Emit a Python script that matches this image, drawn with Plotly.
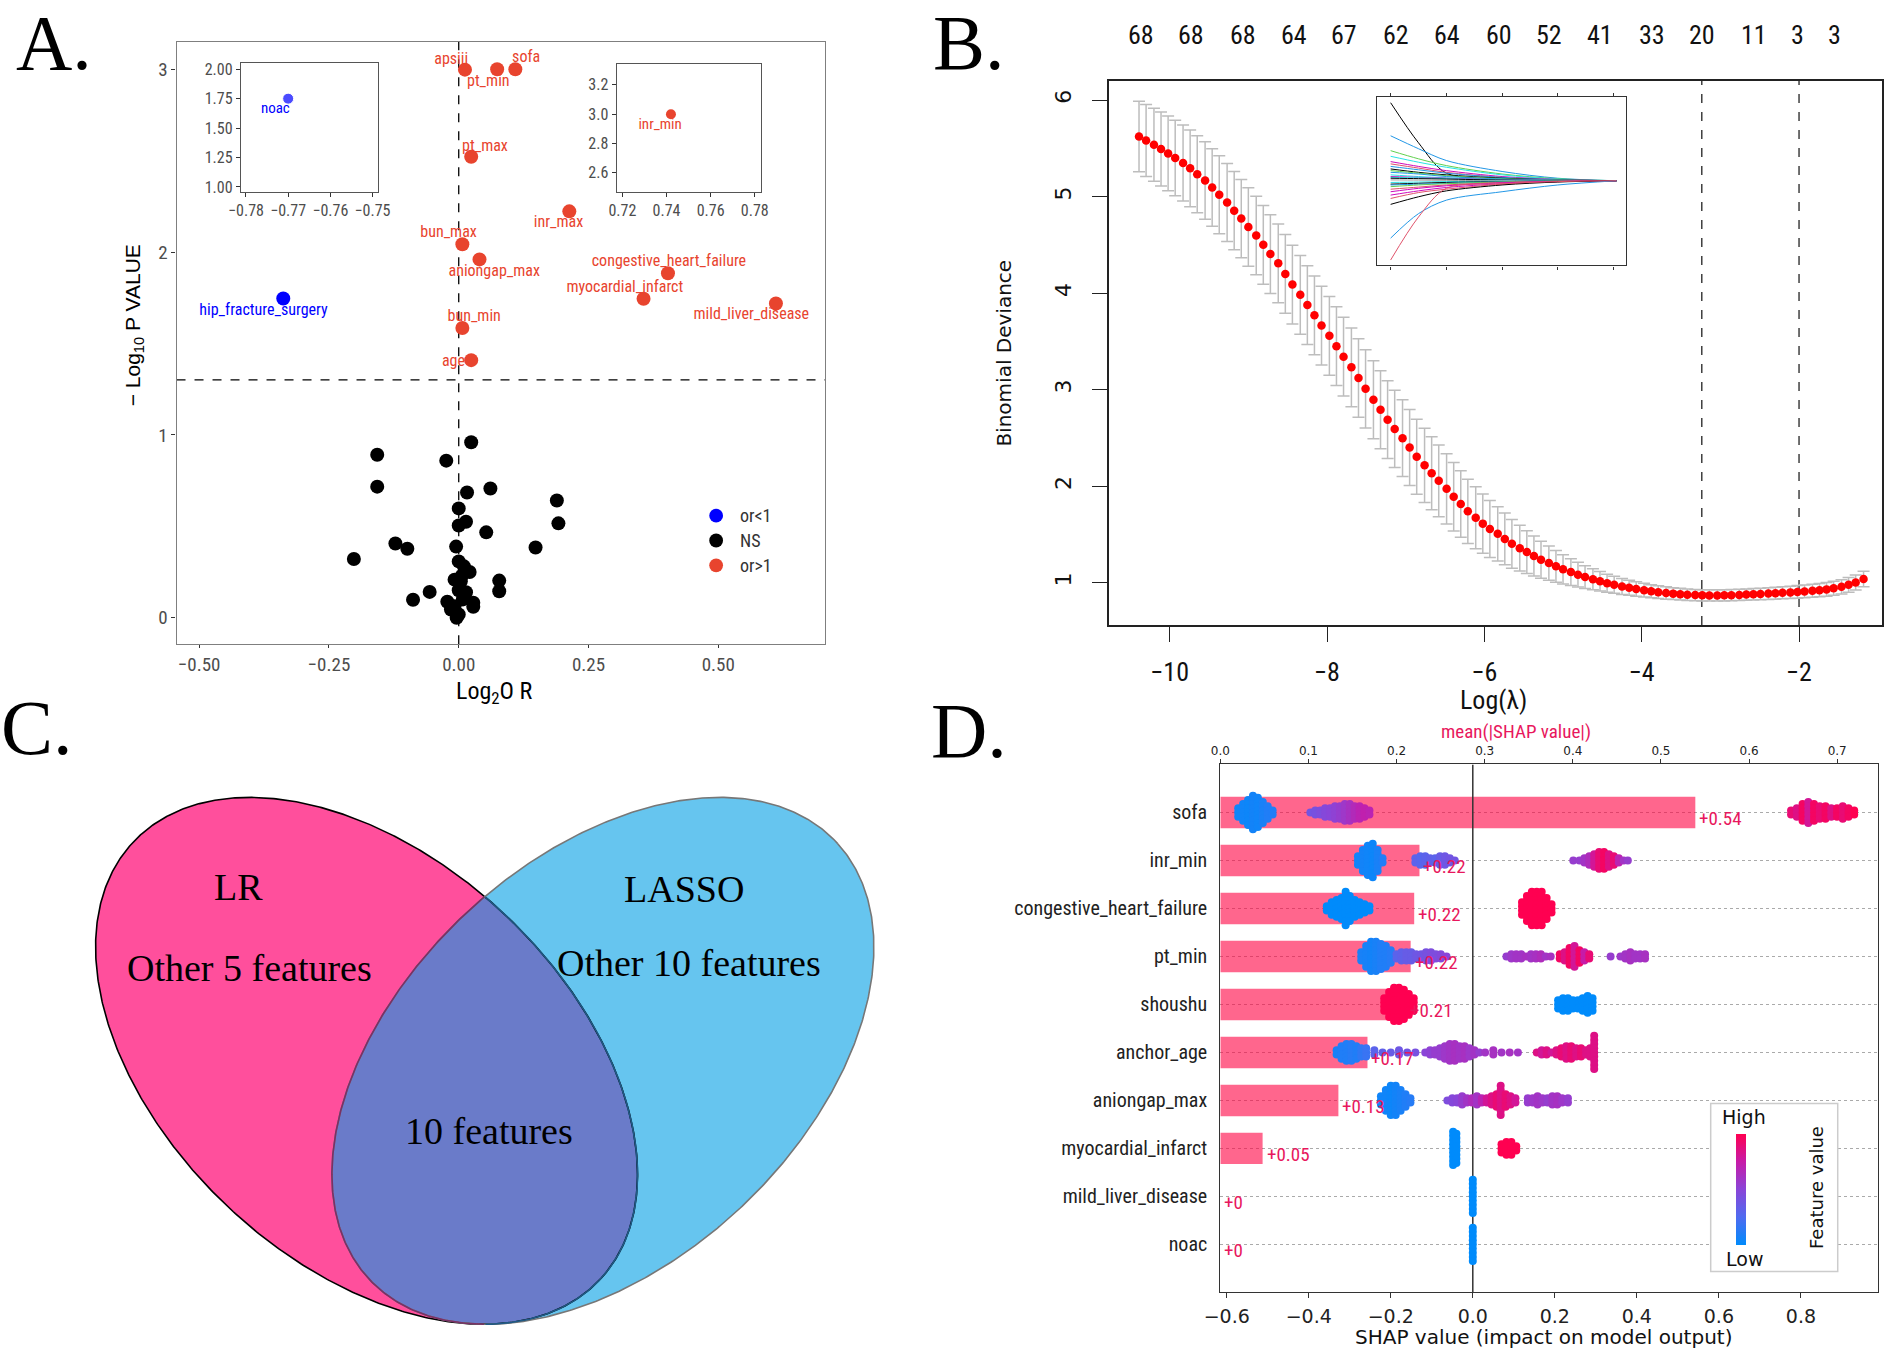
import numpy as np
import plotly.graph_objects as go

W, H = 1896, 1356

# ---------------- A. volcano: log2 OR vs -log10 p ----------------
sig_names = ["apsiii", "pt_min", "sofa", "pt_max", "inr_max", "bun_max",
             "aniongap_max", "congestive_heart_failure", "myocardial_infarct",
             "mild_liver_disease", "bun_min", "age", "hip_fracture_surgery"]
sig_log2or = [0.012, 0.074, 0.109, 0.024, 0.213, 0.007, 0.040, 0.403, 0.356,
              0.611, 0.007, 0.024, -0.338]
sig_nlogp = [2.998, 3.0, 3.0, 2.522, 2.223, 2.043, 1.960, 1.884, 1.745,
             1.719, 1.585, 1.409, 1.746]
sig_group = ["or>1"] * 12 + ["or<1"]

ns_log2or = [0.024, -0.157, -0.024, -0.157, 0.016, 0.061, 0.189, 0.0, 0.014,
             0.0, 0.192, 0.053, -0.122, -0.099, -0.005, 0.148, -0.202, 0.0,
             0.010, 0.021, -0.008, 0.004, 0.078, 0.078, -0.056, 0.0, 0.014,
             -0.088, -0.022, 0.028, 0.028, -0.015, 0.0, -0.004, -0.008, 0.008,
             0.006]
ns_nlogp = [0.960, 0.891, 0.859, 0.717, 0.685, 0.707, 0.641, 0.598, 0.525,
            0.504, 0.516, 0.467, 0.406, 0.377, 0.389, 0.384, 0.321, 0.308,
            0.281, 0.250, 0.208, 0.199, 0.203, 0.145, 0.141, 0.150, 0.139,
            0.098, 0.087, 0.082, 0.060, 0.045, 0.018, 0.0, 0.063, 0.100,
            0.230]
p_cut = 1.301  # -log10(0.05)

zoom_left_log2or = [-0.770, -0.7515]
zoom_left_nlogp = [1.75, 0.907]
zoom_left_label = "noac"
zoom_right_log2or = [0.742]
zoom_right_nlogp = [3.0]
zoom_right_label = "inr_min"

legend_labels = ["or<1", "NS", "or>1"]

# ---------------- B. LASSO cross-validation ----------------
log_lambda = [-10.39, -10.30, -10.20, -10.11, -10.02, -9.93, -9.83, -9.74, -9.65, -9.55,
              -9.46, -9.37, -9.27, -9.18, -9.09, -9.00, -8.90, -8.81, -8.72, -8.62,
              -8.53, -8.44, -8.34, -8.25, -8.16, -8.07, -7.97, -7.88, -7.79, -7.69,
              -7.60, -7.51, -7.41, -7.32, -7.23, -7.14, -7.04, -6.95, -6.86, -6.76,
              -6.67, -6.58, -6.48, -6.39, -6.30, -6.21, -6.11, -6.02, -5.93, -5.83,
              -5.74, -5.65, -5.55, -5.46, -5.37, -5.28, -5.18, -5.09, -5.00, -4.90,
              -4.81, -4.72, -4.62, -4.53, -4.44, -4.35, -4.25, -4.16, -4.07, -3.97,
              -3.88, -3.79, -3.69, -3.60, -3.51, -3.42, -3.32, -3.23, -3.14, -3.04,
              -2.95, -2.86, -2.76, -2.67, -2.58, -2.49, -2.39, -2.30, -2.21, -2.11,
              -2.02, -1.93, -1.83, -1.74, -1.65, -1.56, -1.46, -1.37, -1.28, -1.18]
deviance = [5.623, 5.582, 5.537, 5.493, 5.448, 5.400, 5.349, 5.294, 5.232, 5.167,
            5.095, 5.020, 4.941, 4.855, 4.773, 4.687, 4.598, 4.502, 4.406, 4.310,
            4.200, 4.090, 3.984, 3.878, 3.771, 3.665, 3.559, 3.452, 3.343, 3.233,
            3.123, 3.010, 2.897, 2.794, 2.691, 2.595, 2.499, 2.403, 2.307, 2.218,
            2.136, 2.057, 1.974, 1.892, 1.817, 1.741, 1.676, 1.614, 1.559, 1.508,
            1.456, 1.405, 1.360, 1.319, 1.278, 1.240, 1.205, 1.172, 1.141, 1.112,
            1.085, 1.060, 1.037, 1.016, 0.997, 0.980, 0.964, 0.950, 0.937, 0.925,
            0.914, 0.904, 0.896, 0.889, 0.883, 0.878, 0.874, 0.871, 0.870, 0.870,
            0.871, 0.873, 0.876, 0.879, 0.882, 0.886, 0.890, 0.894, 0.898, 0.902,
            0.907, 0.912, 0.918, 0.925, 0.933, 0.945, 0.960, 0.980, 1.005, 1.040]
dev_se = [0.365, 0.372, 0.378, 0.383, 0.387, 0.391, 0.394, 0.397, 0.399, 0.401,
          0.402, 0.403, 0.404, 0.405, 0.406, 0.407, 0.407, 0.408, 0.408, 0.408,
          0.408, 0.408, 0.408, 0.408, 0.408, 0.408, 0.408, 0.408, 0.408, 0.408,
          0.407, 0.406, 0.405, 0.404, 0.402, 0.400, 0.397, 0.393, 0.389, 0.384,
          0.378, 0.371, 0.363, 0.354, 0.344, 0.333, 0.321, 0.308, 0.295, 0.281,
          0.267, 0.252, 0.237, 0.222, 0.207, 0.192, 0.178, 0.164, 0.151, 0.139,
          0.128, 0.118, 0.109, 0.101, 0.094, 0.088, 0.083, 0.078, 0.074, 0.071,
          0.068, 0.066, 0.064, 0.062, 0.061, 0.060, 0.059, 0.058, 0.058, 0.058,
          0.058, 0.058, 0.059, 0.059, 0.060, 0.060, 0.061, 0.062, 0.063, 0.064,
          0.065, 0.066, 0.067, 0.068, 0.070, 0.072, 0.074, 0.076, 0.078, 0.080]
lambda_min = -3.236
lambda_1se = -2.0
nzero_labels = ["68", "68", "68", "64", "67", "62", "64", "60", "52", "41",
                "33", "20", "11", "3", "3"]
nzero_pos = [-10.37, -9.73, -9.07, -8.42, -7.78, -7.12, -6.48, -5.82, -5.18,
             -4.53, -3.87, -3.23, -2.57, -2.02, -1.55]

# coefficient paths in the small inset
path_x = [0, 0.5, 1, 2, 3, 4.05]
path_vals = [
    [0.925, 0.45, 0.09, 0.03, 0.01, 0],
    [0.533, 0.38, 0.24, 0.11, 0.03, 0],
    [0.357, 0.26, 0.18, 0.08, 0.024, 0],
    [0.29, 0.22, 0.16, 0.07, 0.02, 0],
    [0.227, 0.17, 0.12, 0.05, 0.015, 0],
    [0.20, 0.15, 0.10, 0.04, 0.012, 0],
    [0.17, 0.13, 0.09, 0.04, 0.012, 0],
    [0.14, 0.10, 0.07, 0.03, 0.01, 0],
    [0.12, 0.09, 0.06, 0.025, 0.008, 0],
    [0.10, 0.08, 0.05, 0.02, 0.006, 0],
    [0.07, 0.05, 0.035, 0.015, 0.005, 0],
    [0.05, 0.04, 0.03, 0.012, 0.004, 0],
    [0.04, 0.035, 0.025, 0.01, 0.003, 0],
    [0.03, 0.025, 0.02, 0.008, 0.003, 0],
    [0.01, 0.008, 0.005, 0.002, 0.001, 0],
    [-0.02, -0.015, -0.01, -0.005, -0.002, 0],
    [-0.04, -0.03, -0.02, -0.01, -0.003, 0],
    [-0.05, -0.04, -0.03, -0.012, -0.004, 0],
    [-0.07, -0.05, -0.035, -0.015, -0.005, 0],
    [-0.10, -0.075, -0.05, -0.02, -0.006, 0],
    [-0.13, -0.09, -0.06, -0.025, -0.008, 0],
    [-0.17, -0.12, -0.08, -0.035, -0.01, 0],
    [-0.21, -0.14, -0.10, -0.04, -0.012, 0],
    [-0.28, -0.19, -0.12, -0.05, -0.015, 0],
    [-0.68, -0.39, -0.23, -0.13, -0.05, 0],
    [-0.94, -0.43, -0.09, -0.035, -0.01, 0],
]

# ---------------- C. Venn ----------------
venn_sets = ["LR", "LASSO"]
venn_only = [5, 10]
venn_both = 10

# ---------------- D. SHAP summary ----------------
features = ["sofa", "inr_min", "congestive_heart_failure", "pt_min", "shoushu",
            "anchor_age", "aniongap_max", "myocardial_infarct",
            "mild_liver_disease", "noac"]
mean_abs_shap = [0.539, 0.226, 0.220, 0.216, 0.211, 0.167, 0.134, 0.048, 0.0, 0.0]
bar_labels = ["+0.54", "+0.22", "+0.22", "+0.22", "+0.21", "+0.17", "+0.13",
              "+0.05", "+0", "+0"]

# (shap value, dots stacked, feature value 0..1)
sw_sofa = [(-0.572, 3, 0.05), (-0.560, 5, 0.05), (-0.548, 7, 0.04), (-0.536, 9, 0.06),
           (-0.524, 8, 0.05), (-0.512, 6, 0.08), (-0.500, 4, 0.1), (-0.488, 2, 0.1),
           (-0.396, 1, 0.4), (-0.384, 2, 0.42), (-0.372, 2, 0.45), (-0.360, 3, 0.48),
           (-0.348, 3, 0.5), (-0.336, 4, 0.52), (-0.324, 4, 0.55), (-0.312, 5, 0.58),
           (-0.300, 5, 0.62), (-0.288, 4, 0.66), (-0.276, 4, 0.7), (-0.264, 3, 0.72),
           (-0.252, 2, 0.7), (0.776, 2, 0.9), (0.790, 3, 0.85), (0.804, 5, 0.95),
           (0.818, 6, 0.8), (0.832, 5, 0.95), (0.846, 4, 0.9), (0.860, 4, 0.95),
           (0.874, 3, 0.85), (0.888, 3, 0.95), (0.902, 4, 0.9), (0.916, 3, 0.95),
           (0.930, 2, 1.0)]
sw_inr_min = [(-0.280, 3, 0.05), (-0.268, 6, 0.06), (-0.256, 8, 0.05), (-0.244, 9, 0.04),
              (-0.232, 6, 0.08), (-0.220, 2, 0.1), (-0.140, 2, 0.3), (-0.128, 3, 0.28),
              (-0.116, 3, 0.3), (-0.104, 2, 0.32), (-0.092, 2, 0.3), (-0.080, 3, 0.35),
              (-0.068, 3, 0.38), (-0.056, 2, 0.4), (-0.044, 1, 0.4), (0.245, 1, 0.55),
              (0.260, 1, 0.55), (0.272, 2, 0.6), (0.284, 3, 0.65), (0.296, 4, 0.8),
              (0.308, 5, 0.9), (0.320, 5, 0.95), (0.332, 4, 0.85), (0.344, 3, 0.9),
              (0.356, 2, 0.7), (0.368, 1, 0.6), (0.378, 1, 0.55)]
sw_chf = [(-0.356, 2, 0.0), (-0.344, 4, 0.0), (-0.332, 5, 0.0), (-0.320, 6, 0.0),
          (-0.310, 9, 0.0), (-0.300, 7, 0.0), (-0.288, 5, 0.0), (-0.276, 4, 0.0),
          (-0.264, 3, 0.0), (-0.252, 2, 0.0), (0.120, 4, 1.0), (0.132, 7, 1.0),
          (0.144, 9, 1.0), (0.156, 9, 1.0), (0.168, 9, 1.0), (0.180, 6, 1.0),
          (0.192, 3, 1.0)]
sw_pt_min = [(-0.272, 3, 0.08), (-0.260, 6, 0.07), (-0.248, 8, 0.06), (-0.236, 8, 0.08),
             (-0.224, 7, 0.1), (-0.212, 6, 0.1), (-0.200, 4, 0.12), (-0.186, 2, 0.3),
             (-0.174, 3, 0.32), (-0.162, 3, 0.35), (-0.150, 3, 0.35), (-0.138, 2, 0.38),
             (-0.126, 2, 0.4), (-0.114, 3, 0.42), (-0.102, 3, 0.45), (-0.090, 2, 0.45),
             (-0.078, 2, 0.48), (-0.064, 1, 0.5), (0.082, 1, 0.55), (0.094, 2, 0.58),
             (0.106, 2, 0.6), (0.118, 2, 0.6), (0.130, 1, 0.62), (0.142, 2, 0.6),
             (0.154, 2, 0.62), (0.166, 2, 0.65), (0.178, 1, 0.6), (0.190, 1, 0.62),
             (0.212, 2, 0.95), (0.224, 3, 0.85), (0.236, 5, 0.95), (0.248, 6, 0.8),
             (0.260, 4, 0.95), (0.272, 3, 0.75), (0.284, 2, 0.9), (0.336, 1, 0.55),
             (0.360, 1, 0.58), (0.372, 2, 0.6), (0.384, 3, 0.62), (0.396, 2, 0.6),
             (0.408, 2, 0.6), (0.420, 2, 0.62)]
sw_shoushu = [(-0.216, 4, 1.0), (-0.204, 7, 1.0), (-0.192, 9, 1.0), (-0.180, 9, 1.0),
              (-0.168, 8, 1.0), (-0.156, 6, 1.0), (-0.144, 4, 1.0), (0.208, 3, 0.0),
              (0.220, 4, 0.0), (0.232, 4, 0.0), (0.244, 3, 0.0), (0.256, 3, 0.0),
              (0.268, 4, 0.0), (0.280, 5, 0.0), (0.292, 4, 0.0)]
sw_anchor_age = [(-0.332, 2, 0.08), (-0.320, 4, 0.1), (-0.308, 5, 0.1), (-0.296, 5, 0.12),
                 (-0.284, 4, 0.1), (-0.272, 3, 0.15), (-0.260, 3, 0.18), (-0.240, 2, 0.3),
                 (-0.220, 1, 0.32), (-0.200, 1, 0.35), (-0.180, 2, 0.38), (-0.160, 1, 0.4),
                 (-0.140, 1, 0.42), (-0.116, 1, 0.5), (-0.104, 2, 0.52), (-0.092, 2, 0.55),
                 (-0.080, 3, 0.55), (-0.068, 4, 0.58), (-0.056, 5, 0.6), (-0.044, 5, 0.62),
                 (-0.032, 4, 0.6), (-0.020, 4, 0.62), (-0.008, 3, 0.58), (0.004, 2, 0.6),
                 (0.016, 1, 0.55), (0.030, 1, 0.6), (0.050, 2, 0.62), (0.070, 1, 0.6),
                 (0.090, 1, 0.62), (0.110, 1, 0.6), (0.156, 1, 0.85), (0.168, 2, 0.8),
                 (0.180, 2, 0.85), (0.192, 1, 0.8), (0.204, 2, 0.85), (0.216, 3, 0.9),
                 (0.228, 4, 0.85), (0.240, 4, 0.9), (0.252, 3, 0.85), (0.264, 3, 0.9),
                 (0.276, 2, 0.85), (0.286, 3, 0.85), (0.296, 9, 0.85)]
sw_aniongap = [(-0.224, 3, 0.05), (-0.212, 6, 0.05), (-0.200, 8, 0.04), (-0.188, 8, 0.06),
               (-0.176, 6, 0.08), (-0.164, 4, 0.1), (-0.152, 2, 0.12), (-0.062, 1, 0.45),
               (-0.050, 2, 0.48), (-0.038, 2, 0.5), (-0.026, 3, 0.55), (-0.014, 2, 0.6),
               (-0.002, 2, 0.65), (0.010, 3, 0.6), (0.022, 2, 0.7), (0.034, 2, 0.8),
               (0.046, 3, 0.85), (0.058, 4, 0.9), (0.068, 8, 0.85), (0.080, 4, 0.9),
               (0.092, 3, 0.85), (0.104, 2, 0.8), (0.134, 2, 0.55), (0.146, 2, 0.58),
               (0.158, 3, 0.6), (0.170, 2, 0.58), (0.182, 2, 0.55), (0.194, 3, 0.6),
               (0.206, 3, 0.62), (0.218, 2, 0.58), (0.232, 2, 0.55)]
sw_myocardial = [(-0.048, 9, 0.0), (-0.040, 8, 0.0), (0.070, 3, 1.0), (0.082, 4, 1.0),
                 (0.094, 4, 1.0), (0.106, 2, 1.0)]
sw_mild_liver = [(0.0, 9, 0.0)]
sw_noac = [(0.0, 9, 0.0)]
swarms = [sw_sofa, sw_inr_min, sw_chf, sw_pt_min, sw_shoushu, sw_anchor_age,
          sw_aniongap, sw_myocardial, sw_mild_liver, sw_noac]

# ---------------- layout helpers (pixel boxes) ----------------
NARROW = "Liberation Sans Narrow, Arial Narrow, Roboto Condensed, sans-serif"
SANS = "DejaVu Sans, Liberation Sans, sans-serif"
ARIAL = "Liberation Sans, Arial, sans-serif"
SERIF = "Liberation Serif, Times New Roman, serif"
RED = "#E8442E"
BLUE = "#0000FF"
CRIMSON = "#E8175D"


def dom_x(box):
    return [box[0] / W, box[1] / W]


def dom_y(box):
    return [1 - box[3] / H, 1 - box[2] / H]


def ppu(box, xr, yr):
    return (box[1] - box[0]) / abs(xr[1] - xr[0]), (box[3] - box[2]) / abs(yr[1] - yr[0])


def px(x):
    return x / W


def py(y):
    return 1 - y / H


def note(x, y, text, font, **kw):
    # text placed by page pixels, always centred unless told otherwise
    args = dict(x=px(x), y=py(y), xref="paper", yref="paper", text=text,
                showarrow=False, xanchor="center", yanchor="middle", font=font)
    args.update(kw)
    fig.add_annotation(**args)


A_BOX, A_XR, A_YR = (162, 820.7, 39.3, 645), [-0.5436, 0.7058], [-0.145, 3.149]
AL_BOX, AL_XR, AL_YR = (227.4, 366.6, 60.7, 190), [-0.7812, -0.7487], [0.958, 2.05]
AR_BOX, AR_XR, AR_YR = (609, 755.7, 61.7, 190), [0.7174, 0.7829], [2.47, 3.34]
B_BOX, B_XR, B_YR = (1108.6, 1894, 78.3, 625.7), [-10.776, -0.945], [0.564, 6.2]
BI_BOX, BI_XR, BI_YR = (1381, 1634, 94.3, 264), [-0.247, 4.224], [-1.004, 0.996]
C_BOX = (0, 940, 690, 1356)
D_BOX, D_XR_TOP, D_XR, D_YR = (1222, 1890, 766, 1297), [0, 0.7464], [-0.6156, 0.9882], [10, -1]

fig = go.Figure()

# ================= A =================
ax_ppu, ay_ppu = ppu(A_BOX, A_XR, A_YR)
lab_dx = [-14, -9, 11, 14, -11, -14, 15, 1, -19, -25, 12, -18, -20]
lab_dy = [10, -13, 11, 10, -12, 11, -13, 11, 11, -12, 11, -2, -13]
fig.add_trace(go.Scatter(
    x=[x + d / ax_ppu for x, d in zip(sig_log2or, lab_dx)],
    y=[y + d / ay_ppu for y, d in zip(sig_nlogp, lab_dy)],
    text=sig_names, mode="text", cliponaxis=False,
    textfont=dict(family=NARROW, size=16,
                  color=[BLUE if g == "or<1" else RED for g in sig_group]),
    xaxis="x", yaxis="y"))
fig.add_trace(go.Scatter(x=ns_log2or, y=ns_nlogp, mode="markers",
                         marker=dict(color="black", size=14), xaxis="x", yaxis="y"))
fig.add_trace(go.Scatter(
    x=sig_log2or, y=sig_nlogp, mode="markers",
    marker=dict(color=[BLUE if g == "or<1" else RED for g in sig_group], size=14),
    xaxis="x", yaxis="y"))
fig.add_shape(type="line", xref="x", yref="y domain", x0=0, x1=0, y0=0, y1=1,
              line=dict(color="black", width=1.3, dash="dash"), layer="below")
fig.add_shape(type="line", xref="x domain", yref="y", x0=0, x1=1, y0=p_cut, y1=p_cut,
              line=dict(color="black", width=1.3, dash="dash"), layer="below")

# left inset
lx_ppu, ly_ppu = ppu(AL_BOX, AL_XR, AL_YR)
fig.add_trace(go.Scatter(x=[zoom_left_log2or[0] - 13 / lx_ppu], y=[zoom_left_nlogp[0] - 11 / ly_ppu],
                         text=[zoom_left_label], mode="text", cliponaxis=False,
                         textfont=dict(family=NARROW, size=15, color=BLUE),
                         xaxis="x2", yaxis="y2"))
fig.add_trace(go.Scatter(x=zoom_left_log2or, y=zoom_left_nlogp, mode="markers",
                         cliponaxis=False, marker=dict(color=BLUE, size=[11, 5]),
                         xaxis="x2", yaxis="y2"))
# right inset
rx_ppu, ry_ppu = ppu(AR_BOX, AR_XR, AR_YR)
fig.add_trace(go.Scatter(x=[zoom_right_log2or[0] - 11 / rx_ppu], y=[zoom_right_nlogp[0] - 11 / ry_ppu],
                         text=[zoom_right_label], mode="text", cliponaxis=False,
                         textfont=dict(family=NARROW, size=15, color=RED),
                         xaxis="x3", yaxis="y3"))
fig.add_trace(go.Scatter(x=zoom_right_log2or, y=zoom_right_nlogp, mode="markers",
                         marker=dict(color=RED, size=10), xaxis="x3", yaxis="y3"))

# legend (drawn by hand)
leg_cols = [BLUE, "black", RED]
for i, (lab, col) in enumerate(zip(legend_labels, leg_cols)):
    cy = 515.7 + i * 25
    fig.add_shape(type="circle", xref="paper", yref="paper",
                  x0=px(710 - 7), x1=px(710 + 7), y0=py(cy + 7), y1=py(cy - 7),
                  fillcolor=col, line=dict(width=0), layer="above")
    note(732, cy, lab, dict(family=NARROW, size=18, color="#333"), xanchor="left")

# ================= B =================
fig.add_trace(go.Scatter(
    x=log_lambda, y=deviance, mode="markers",
    marker=dict(color="#FF0000", size=8.5),
    error_y=dict(type="data", array=dev_se, color="#BDBDBD", thickness=1.5, width=6),
    xaxis="x4", yaxis="y4"))
for xv in (lambda_min, lambda_1se):
    fig.add_shape(type="line", xref="x4", yref="y4 domain", x0=xv, x1=xv, y0=0, y1=1,
                  line=dict(color="#222", width=1.3, dash="dash"), layer="below")
for lab, xv in zip(nzero_labels, nzero_pos):
    fig.add_annotation(x=xv, y=py(31.7), xref="x4", yref="paper", text=lab,
                       showarrow=False, xanchor="center", yanchor="middle",
                       font=dict(family=NARROW, size=26, color="#111"))

path_cols = ["black", "#2297E6", "#61D04F", "#28E2E5", "#CD0BBC", "#DF536B",
             "#2297E6", "black", "#61D04F", "#2297E6", "#28E2E5", "#CD0BBC",
             "#28E2E5", "black", "#9E9E9E", "#28E2E5", "black", "#2297E6",
             "#61D04F", "#DF536B", "#CD0BBC", "#CD0BBC", "#DF536B", "black",
             "#2297E6", "#DF536B"]
for vals, col in zip(path_vals, path_cols):
    fig.add_trace(go.Scatter(x=path_x, y=vals, mode="lines",
                             line=dict(color=col, width=1, shape="spline", smoothing=0.9),
                             xaxis="x5", yaxis="y5"))


# ================= C (Venn) =================
def ellipse_pts(cx, cy, a, b, ang, n=720):
    t = np.linspace(0, 2 * np.pi, n, endpoint=False)
    c, s = np.cos(np.radians(ang)), np.sin(np.radians(ang))
    return cx + a * np.cos(t) * c - b * np.sin(t) * s, cy + a * np.cos(t) * s + b * np.sin(t) * c


def inside(x, y, cx, cy, a, b, ang):
    c, s = np.cos(np.radians(ang)), np.sin(np.radians(ang))
    u = (x - cx) * c + (y - cy) * s
    v = -(x - cx) * s + (y - cy) * c
    return (u / a) ** 2 + (v / b) ** 2 <= 1


def longest_arc(x, y, mask):
    # longest contiguous run of True on the closed curve
    n = len(mask)
    best, cur, best_end = 0, 0, 0
    for k in range(2 * n):
        if mask[k % n]:
            cur += 1
            if cur > best and cur <= n:
                best, best_end = cur, k
        else:
            cur = 0
    idx = [(best_end - best + 1 + j) % n for j in range(best)]
    return x[idx], y[idx]


EL = (355.0, 1064.1, 323.4, 203.4, 42.5)
ER = (595.0, 1064.1, 323.4, 203.4, -42.5)
lxs, lys = ellipse_pts(*EL)
rxs, rys = ellipse_pts(*ER)
alx, aly = longest_arc(lxs, lys, inside(lxs, lys, *ER))
arx, ary = longest_arc(rxs, rys, inside(rxs, rys, *EL))
if np.hypot(alx[-1] - arx[0], aly[-1] - ary[0]) > np.hypot(alx[-1] - arx[-1], aly[-1] - ary[-1]):
    arx, ary = arx[::-1], ary[::-1]
lens_x = np.concatenate([alx, arx, alx[:1]])
lens_y = np.concatenate([aly, ary, aly[:1]])

for xs, ys, col in ((lxs, lys, "#FF4F9C"), (rxs, rys, "#66C5EF")):
    fig.add_trace(go.Scatter(x=np.append(xs, xs[0]), y=np.append(ys, ys[0]), mode="lines",
                             fill="toself", fillcolor=col, line=dict(width=0),
                             xaxis="x6", yaxis="y6"))
fig.add_trace(go.Scatter(x=lens_x, y=lens_y, mode="lines", fill="toself", fillcolor="#6A7BC9",
                         line=dict(width=0), xaxis="x6", yaxis="y6"))
fig.add_trace(go.Scatter(x=np.append(lxs, lxs[0]), y=np.append(lys, lys[0]), mode="lines",
                         line=dict(color="black", width=1.6), xaxis="x6", yaxis="y6"))
fig.add_trace(go.Scatter(x=np.append(rxs, rxs[0]), y=np.append(rys, rys[0]), mode="lines",
                         line=dict(color="#777777", width=1.6), xaxis="x6", yaxis="y6"))
fig.add_trace(go.Scatter(x=alx, y=aly, mode="lines", line=dict(color="#1F5A86", width=1.6),
                         xaxis="x6", yaxis="y6"))
fig.add_trace(go.Scatter(x=arx, y=ary, mode="lines", line=dict(color="#7A3066", width=1.6),
                         xaxis="x6", yaxis="y6"))

venn_text = [(venn_sets[0], 225, 889), (venn_sets[1], 677, 891),
             (f"Other {venn_only[0]} features", 236, 971),
             (f"Other {venn_only[1]} features", 682, 966),
             (f"{venn_both} features", 479, 1135)]
for t, x, y in venn_text:
    fig.add_annotation(x=x, y=y, xref="x6", yref="y6", text=t, showarrow=False,
                       xanchor="center", yanchor="middle",
                       font=dict(family=SERIF, size=38, color="black"))

# ================= D (SHAP) =================
fig.add_trace(go.Bar(x=mean_abs_shap, y=list(range(len(features))), orientation="h",
                     width=0.656, marker=dict(color="rgba(255,0,65,0.6)", line=dict(width=0)),
                     xaxis="x7", yaxis="y7"))
fig.add_trace(go.Scatter(x=[0, 0], y=[D_YR[1], D_YR[0]], mode="lines",
                         line=dict(color="#333", width=1.5), xaxis="x8", yaxis="y7"))
row_px = (D_BOX[3] - D_BOX[2]) / abs(D_YR[0] - D_YR[1])
STEP_PX = 4.2
dot_x, dot_y, dot_c = [], [], []
for r, sw in enumerate(swarms):
    for s, n, fv in sw:
        for k in range(n):
            dot_x.append(s)
            dot_y.append(r + (k - (n - 1) / 2) * STEP_PX / row_px)
            dot_c.append(fv)
fig.add_trace(go.Scatter(x=dot_x, y=dot_y, mode="markers",
                         marker=dict(size=8, color=dot_c, coloraxis="coloraxis", line=dict(width=0)),
                         xaxis="x8", yaxis="y7"))
for r, (v, lab) in enumerate(zip(mean_abs_shap, bar_labels)):
    fig.add_annotation(x=v, y=r + 6 / row_px, xref="x7", yref="y7", text=lab, showarrow=False,
                       xanchor="left", yanchor="middle", xshift=2,
                       font=dict(family=NARROW, size=19, color=CRIMSON))

fig.add_shape(type="rect", xref="paper", yref="paper", x0=px(1720), x1=px(1849),
              y0=py(1276), y1=py(1107), line=dict(color="#CCCCCC", width=1.5),
              fillcolor="white", layer="above")
note(1754, 1121, "High", dict(family=SANS, size=19, color="#111"))
note(1754, 1263, "Low", dict(family=SANS, size=19, color="#111"))
note(1828, 1192, "Feature value", dict(family=SANS, size=18, color="#111"), textangle=-90)
note(1522, 733, "mean(|SHAP value|)", dict(family=NARROW, size=19, color=CRIMSON))
note(1550, 1342, "SHAP value (impact on model output)", dict(family=SANS, size=20, color="#111"))

# ================= titles / panel letters =================
note(485, 694, "Log<sub>2</sub>O R", dict(family=NARROW, size=24, color="black"))
note(119, 324, "− Log<sub>10</sub> P VALUE", dict(family=ARIAL, size=21, color="black"),
     textangle=-90)
note(1002, 352, "Binomial Deviance", dict(family=SANS, size=20, color="#111"), textangle=-90)
note(1499, 701, "Log(λ)", dict(family=NARROW, size=26, color="#111"))
for lab, x, y in (("A.", 38, 40), ("B.", 967, 40), ("C.", 20, 729), ("D.", 967, 732)):
    note(x, y, lab, dict(family=SERIF, size=78, color="black"))

# ================= axes =================
tick_a = dict(family=NARROW, size=19, color="#4D4D4D")
tick_i = dict(family=NARROW, size=16, color="#4D4D4D")
frame_a = dict(showline=True, linecolor="#7F7F7F", linewidth=1.2, mirror=True,
               showgrid=False, zeroline=False, ticks="outside", ticklen=4,
               tickcolor="#333", fixedrange=True)
frame_i = {**frame_a, "linecolor": "#555"}
frame_b = dict(showline=True, linecolor="#222", linewidth=1.5, mirror=True,
               showgrid=False, zeroline=False, ticks="outside", ticklen=15,
               tickcolor="#222", tickwidth=1.2)


def mfmt(v, nd):
    return f"{v:.{nd}f}".replace("-", "−")


fig.update_layout(
    width=W, height=H, margin=dict(l=0, r=0, t=0, b=0),
    paper_bgcolor="white", plot_bgcolor="white", showlegend=False,
    xaxis=dict(domain=dom_x(A_BOX), range=A_XR, anchor="y",
               tickvals=[-0.5, -0.25, 0, 0.25, 0.5],
               ticktext=[mfmt(v, 2) for v in [-0.5, -0.25, 0, 0.25, 0.5]],
               tickfont=tick_a, **{**frame_a, "ticklen": 3}),
    yaxis=dict(domain=dom_y(A_BOX), range=A_YR, anchor="x",
               tickvals=[0, 1, 2, 3], tickfont=tick_a, **frame_a),
    xaxis2=dict(domain=dom_x(AL_BOX), range=AL_XR, anchor="y2",
                tickvals=[-0.78, -0.77, -0.76, -0.75],
                ticktext=[mfmt(v, 2) for v in [-0.78, -0.77, -0.76, -0.75]],
                tickfont=tick_i, **frame_i),
    yaxis2=dict(domain=dom_y(AL_BOX), range=AL_YR, anchor="x2",
                tickvals=[1, 1.25, 1.5, 1.75, 2],
                ticktext=["1.00", "1.25", "1.50", "1.75", "2.00"],
                tickfont=tick_i, **frame_i),
    xaxis3=dict(domain=dom_x(AR_BOX), range=AR_XR, anchor="y3",
                tickvals=[0.72, 0.74, 0.76, 0.78], tickfont=tick_i, **frame_i),
    yaxis3=dict(domain=dom_y(AR_BOX), range=AR_YR, anchor="x3",
                tickvals=[2.6, 2.8, 3.0, 3.2], ticktext=["2.6", "2.8", "3.0", "3.2"],
                tickfont=tick_i, **frame_i),
    xaxis4=dict(domain=dom_x(B_BOX), range=B_XR, anchor="y4",
                tickvals=[-10, -8, -6, -4, -2], ticktext=["−10", "−8", "−6", "−4", "−2"],
                tickfont=dict(family=NARROW, size=26, color="#111"),
                ticklabelstandoff=8, **frame_b),
    yaxis4=dict(domain=dom_y(B_BOX), range=B_YR, anchor="x4",
                tickvals=[1, 2, 3, 4, 5, 6], tickangle=-90,
                tickfont=dict(family=SANS, size=22, color="#111"),
                ticklabelstandoff=12, **frame_b),
    xaxis5=dict(domain=dom_x(BI_BOX), range=BI_XR, anchor="y5",
                tickvals=[0, 1, 2, 3, 4], showticklabels=False, ticks="outside",
                ticklen=3, tickcolor="#333", showline=True, linecolor="#333",
                linewidth=1.2, mirror="allticks", showgrid=False, zeroline=False),
    yaxis5=dict(domain=dom_y(BI_BOX), range=BI_YR, anchor="x5", showticklabels=False,
                showline=True, linecolor="#333", linewidth=1.2, mirror=True,
                showgrid=False, zeroline=False),
    xaxis6=dict(domain=dom_x(C_BOX), range=[C_BOX[0], C_BOX[1]], anchor="y6", visible=False),
    yaxis6=dict(domain=dom_y(C_BOX), range=[C_BOX[3], C_BOX[2]], anchor="x6", visible=False),
    xaxis7=dict(domain=dom_x(D_BOX), range=D_XR_TOP, anchor="y7", side="top",
                tickvals=[0, 0.1, 0.2, 0.3, 0.4, 0.5, 0.6, 0.7],
                ticktext=[f"{v:.1f}" for v in [0, 0.1, 0.2, 0.3, 0.4, 0.5, 0.6, 0.7]],
                tickfont=dict(family=SANS, size=12, color="#222"),
                ticks="outside", ticklen=4, tickcolor="#333",
                showline=True, linecolor="#333", linewidth=1.2,
                showgrid=False, zeroline=False),
    xaxis8=dict(range=D_XR, overlaying="x7", anchor="y7", side="bottom",
                tickvals=[-0.6, -0.4, -0.2, 0, 0.2, 0.4, 0.6, 0.8],
                ticktext=[mfmt(v, 1) for v in [-0.6, -0.4, -0.2, 0, 0.2, 0.4, 0.6, 0.8]],
                tickfont=dict(family=SANS, size=19, color="#222"),
                ticks="outside", ticklen=5, tickcolor="#333",
                ticklabelstandoff=2,
                showline=True, linecolor="#333", linewidth=1.2,
                showgrid=False, zeroline=False),
    yaxis7=dict(domain=dom_y(D_BOX), range=D_YR, anchor="x7",
                tickvals=list(range(len(features))), ticktext=features,
                tickfont=dict(family=NARROW, size=20, color="#222"),
                ticks="", ticklabelstandoff=8,
                showgrid=True, gridcolor="#AAAAAA", griddash="dot", gridwidth=1,
                showline=True, linecolor="#333", linewidth=1.2, mirror=True, zeroline=False),
    coloraxis=dict(
        cmin=0, cmax=1,
        colorscale=[[0, "#008BFB"], [0.25, "#4F6BF0"], [0.5, "#8A45D8"],
                    [0.75, "#C71BA8"], [1, "#FF0051"]],
        colorbar=dict(x=px(1746), xanchor="left", y=py(1193.5), yanchor="middle",
                      len=111.6 / H, lenmode="fraction", thickness=10,
                      thicknessmode="pixels", outlinewidth=0, showticklabels=False,
                      ticks="", xpad=0, ypad=0)),
)

# the page body has a default 8px margin; drop it so the figure sits at (0, 0)
fig.write_html("out.html", config={"displayModeBar": False},
               post_script="document.body.style.margin='0px';")
